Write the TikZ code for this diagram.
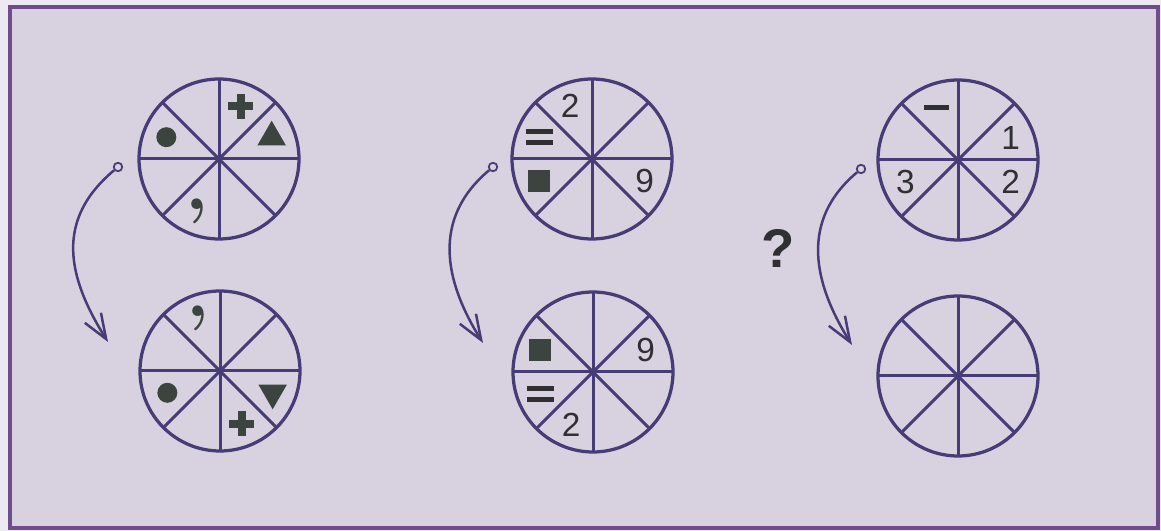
\documentclass[tikz,border=0pt]{standalone}
\usepackage{fontspec}
\newfontfamily\arialfont{Liberation Sans}
\usetikzlibrary{arrows.meta, shapes.geometric}
\definecolor{paper}{RGB}{236,233,240}
\definecolor{card}{RGB}{216,209,223}
\definecolor{rim}{RGB}{112,76,140}
\definecolor{ink}{RGB}{70,60,118}
\definecolor{symgray}{RGB}{60,68,64}
\definecolor{digit}{RGB}{48,48,52}
\tikzset{
  wheel/.style    = {circle, draw=ink, line width=0.065cm, minimum size=3.2cm,
                     inner sep=0pt, outer sep=0pt},
  spoke/.style    = {draw=ink, line width=0.06cm},
  num/.style      = {text=digit, inner sep=0pt, font=\arialfont\fontsize{19}{19}\selectfont},
  qmark/.style    = {text=digit, inner sep=0pt, font=\arialfont\bfseries\fontsize{31}{31}\selectfont},
  dotsym/.style   = {circle, fill=symgray, minimum size=0.4cm, inner sep=0pt},
  boxsym/.style   = {rectangle, fill=symgray, minimum size=0.44cm, inner sep=0pt},
  trisym/.style   = {regular polygon, regular polygon sides=3, fill=symgray,
                     minimum size=0.66cm, inner sep=0pt},
  commasym/.style = {text=symgray, inner sep=0pt, font=\bfseries\fontsize{42}{42}\selectfont},
  knob/.style     = {circle, draw=ink, fill=card, line width=0.035cm,
                     minimum size=0.17cm, inner sep=0pt},
  turn/.style     = {draw=ink, line width=0.05cm,
                     -{Straight Barb[length=0.5cm, width=0.38cm, line width=0.05cm]}},
  plussym/.pic    = {\fill[symgray] (-12.5,-4) rectangle (12.5,4);
                     \fill[symgray] (-4,-12.5) rectangle (4,12.5);},
  eqsym/.pic      = {\fill[digit] (-13.5,3) rectangle (13.5,8);
                     \fill[digit] (-13.5,-8) rectangle (13.5,-3);},
  minsym/.pic     = {\fill[digit] (-12.5,-2.5) rectangle (12.5,2.5);},
}

\begin{document}
\begin{tikzpicture}[x=0.02cm, y=0.02cm]
    \useasboundingbox (0,0) rectangle (1161,531);
    \fill[paper] (0,0) rectangle (1161,531);
    \fill[card] (10,3) rectangle (1158,524);
    \draw[rim, line width=0.09cm] (10,3) rectangle (1158,524);
    % row 1: given wheels
    \node[wheel] (t1) at (219,372) {};
    \node[wheel] (t2) at (592,372) {};
    \node[wheel] (t3) at (958,371) {};
    % row 2: turned wheels
    \node[wheel] (b1) at (220,160) {};
    \node[wheel] (b2) at (593,159) {};
    \node[wheel] (b3) at (958,155) {};
    \foreach \w in {t1,t2,t3,b1,b2,b3}
      \foreach \a/\b in {0/180,45/225,90/270,135/315}
        \draw[spoke] (\w.\a) -- (\w.\b);
    % wheel 1
    \path (t1) ++(67.5:57) pic {plussym};
    \path (t1) ++(22.5:57) node[trisym] (t1tri) {};
    \path (t1) ++(157.5:57) node[dotsym] (t1dot) {};
    \path (t1) ++(247.5:57) node[commasym] (t1com) {,};
    \path (b1) ++(112.5:57) node[commasym] (b1com) {,};
    \path (b1) ++(202.5:57) node[dotsym] (b1dot) {};
    \path (b1) ++(337.5:57) node[trisym, shape border rotate=180] (b1tri) {};
    \path (b1) ++(292.5:57) pic {plussym};
    % wheel 2
    \path (t2) ++(112.5:57) node[num] (t2two) {2};
    \path (t2) ++(157.5:57) pic {eqsym};
    \path (t2) ++(202.5:57) node[boxsym] (t2box) {};
    \path (t2) ++(337.5:57) node[num] (t2nine) {9};
    \path (b2) ++(157.5:57) node[boxsym] (b2box) {};
    \path (b2) ++(22.5:57) node[num] (b2nine) {9};
    \path (b2) ++(202.5:57) pic {eqsym};
    \path (b2) ++(247.5:57) node[num] (b2two) {2};
    % wheel 3
    \path (t3) ++(112.5:57) pic {minsym};
    \path (t3) ++(22.5:57) node[num] (t3one) {1};
    \path (t3) ++(337.5:57) node[num] (t3two) {2};
    \path (t3) ++(202.5:57) node[num] (t3three) {3};
    \node[qmark] (q) at (778,283) {?};
    % turning arrows
    \node[knob] (s1) at (118,364) {};
    \node[knob] (s2) at (493,364) {};
    \node[knob] (s3) at (861,362) {};
    \coordinate (e1) at (108,189);
    \coordinate (e2) at (483,188);
    \coordinate (e3) at (852,186);
    \draw[turn] (s1) to[out=220, in=122, looseness=1.15] (e1);
    \draw[turn] (s2) to[out=220, in=122, looseness=1.1] (e2);
    \draw[turn] (s3) to[out=220, in=122, looseness=1.1] (e3);
\end{tikzpicture}
\end{document}
